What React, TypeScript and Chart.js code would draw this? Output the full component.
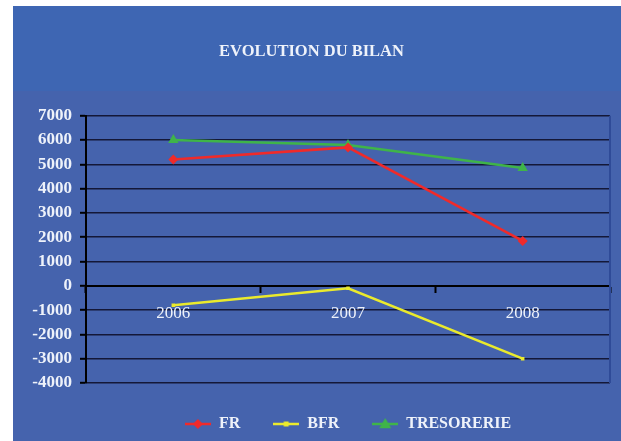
import React, { useEffect, useRef } from "react";
import { Chart, registerables } from "chart.js";

Chart.register(...registerables);

const categories = ["2006", "2007", "2008"];
const frValues = [5200, 5700, 1850];
const bfrValues = [-800, -100, -3000];
const tresorerieValues = [6000, 5800, 4850];
const yMin = -4000;
const yMax = 7000;
const yStep = 1000;

const SERIF = "'Liberation Serif', 'Times New Roman', serif";

function makeLegendIcon(color: string, style: string, r: number) {
  const c = document.createElement("canvas");
  c.width = 26;
  c.height = 14;
  const ctx = c.getContext("2d")!;
  ctx.strokeStyle = color;
  ctx.fillStyle = color;
  ctx.lineWidth = 2.5;
  ctx.beginPath();
  ctx.moveTo(0, 7);
  ctx.lineTo(26, 7);
  ctx.stroke();
  ctx.beginPath();
  if (style === "rectRot") {
    ctx.moveTo(13, 7 - r);
    ctx.lineTo(13 + r, 7);
    ctx.lineTo(13, 7 + r);
    ctx.lineTo(13 - r, 7);
  } else if (style === "triangle") {
    ctx.moveTo(13, 7 - r);
    ctx.lineTo(13 + r, 7 + r * 0.7);
    ctx.lineTo(13 - r, 7 + r * 0.7);
  } else {
    ctx.rect(13 - r, 7 - r, r * 2, r * 2);
  }
  ctx.closePath();
  ctx.fill();
  return c;
}

export default function App() {
  const ref = useRef<HTMLCanvasElement | null>(null);

  useEffect(() => {
    if (!ref.current) return;
    const seriesStyle = [
      { label: "FR", data: frValues, color: "#f02a2a", point: "rectRot", r: 5 },
      { label: "BFR", data: bfrValues, color: "#eaea2c", point: "rect", r: 2.5 },
      { label: "TRESORERIE", data: tresorerieValues, color: "#3fb449", point: "triangle", r: 6 },
    ];
    const icons = seriesStyle.map((s) => makeLegendIcon(s.color, s.point, s.r));

    const areaPlugin = {
      id: "areaBorder",
      beforeDatasetsDraw(chart: any) {
        const { ctx, chartArea } = chart;
        ctx.save();
        ctx.strokeStyle = "#2f4b98";
        ctx.lineWidth = 2;
        ctx.beginPath();
        ctx.moveTo(chartArea.right, chartArea.top);
        ctx.lineTo(chartArea.right, chartArea.bottom);
        ctx.stroke();
        ctx.restore();
      },
    };

    const chart = new Chart(ref.current, {
      type: "line",
      data: {
        labels: categories,
        datasets: seriesStyle.map((s) => ({
          label: s.label,
          data: s.data,
          borderColor: s.color,
          backgroundColor: s.color,
          borderWidth: 2.5,
          pointStyle: s.point as any,
          pointRadius: s.r,
          pointBorderWidth: 0,
          pointBackgroundColor: s.color,
          tension: 0,
          fill: false,
        })),
      },
      options: {
        animation: false,
        responsive: false,
        layout: { padding: { top: 0, left: 0, right: 11, bottom: 0 } },
        plugins: {
          title: {
            display: true,
            text: "EVOLUTION DU BILAN",
            color: "#eef2fa",
            font: { family: SERIF, size: 16.5, weight: "bold" },
            padding: { top: 36, bottom: 54 },
          },
          legend: {
            position: "bottom",
            fullSize: false,
            labels: {
              color: "#eef2fa",
              font: { family: SERIF, size: 16, weight: "bold" },
              usePointStyle: true,
              pointStyleWidth: 26,
              padding: 33,
              generateLabels: (ch: any) => {
                const items = Chart.defaults.plugins.legend.labels.generateLabels(ch);
                return items.map((it: any, i: number) => ({ ...it, pointStyle: icons[i] }));
              },
            },
          },
          tooltip: { enabled: false },
        },
        scales: {
          x: {
            type: "category",
            position: { y: 0 } as any,
            offset: true,
            grid: {
              offset: true,
              drawOnChartArea: false,
              drawTicks: true,
              tickLength: 6,
              tickColor: "#000",
              tickWidth: 2,
            },
            border: { display: true, color: "#000", width: 2 },
            ticks: { color: "#eef2fa", font: { family: SERIF, size: 17 }, padding: 11 },
          },
          y: {
            min: yMin,
            max: yMax,
            ticks: {
              stepSize: yStep,
              autoSkip: false,
              color: "#eef2fa",
              font: { family: SERIF, size: 17, weight: "bold" },
              padding: 8,
              callback: (v: any) => String(v),
            },
            grid: {
              color: "#141838",
              lineWidth: 1.6,
              tickColor: "#000",
              tickLength: 6,
              tickWidth: 2,
            },
            border: { display: true, color: "#000", width: 2 },
            afterFit: (s: any) => {
              s.width = 73;
            },
          },
        },
      } as any,
      plugins: [areaPlugin],
    });
    return () => chart.destroy();
  }, []);

  return (
    <div style={{ position: "absolute", left: 0, top: 0, width: 621, height: 441, background: "#ffffff", overflow: "hidden" }}>
      <div
        style={{
          position: "absolute",
          left: 13,
          top: 6,
          width: 608,
          height: 435,
          background: "linear-gradient(to bottom, #3e66b3 0px, #3e66b3 85px, #4563ad 85px, #4563ad 100%)",
        }}
      >
        <canvas ref={ref} width={608} height={436} style={{ display: "block" }} />
      </div>
    </div>
  );
}
